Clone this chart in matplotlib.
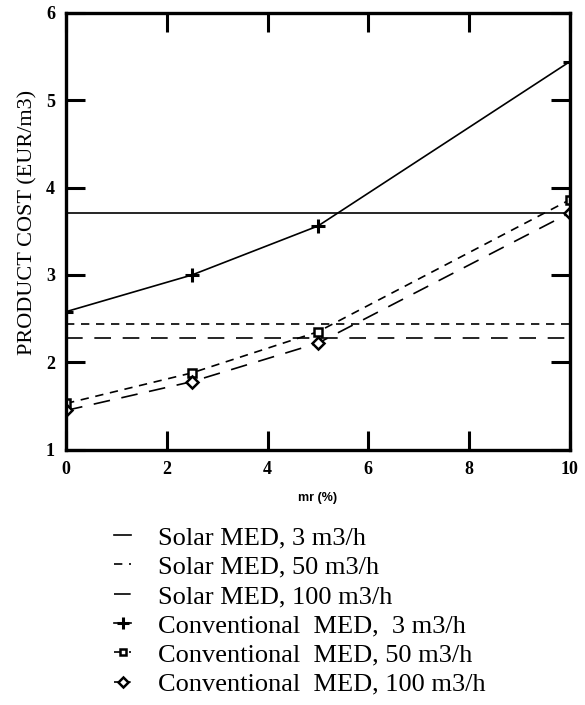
"""Product cost vs mr: solar vs conventional MED, styled after the scanned figure."""

import matplotlib

matplotlib.use("Agg")

import matplotlib.pyplot as plt  # noqa: E402

SERIF = ["Liberation Serif", "DejaVu Serif"]
INK = "#000000"

# --- data --------------------------------------------------------------
mr = [0, 2.5, 5, 10]
conv_3 = [2.58, 3.00, 3.56, 5.44]
conv_50 = [1.53, 1.88, 2.35, 3.86]
conv_100 = [1.45, 1.78, 2.22, 3.71]
solar_3 = 3.71
solar_50 = 2.44
solar_100 = 2.28

x_ticks = [0, 2, 4, 6, 8, 10]
y_ticks = [1, 2, 3, 4, 5, 6]

fig = plt.figure(figsize=(5.85, 7.05), dpi=100)
fig.patch.set_facecolor("white")
ax = fig.add_axes([0.113, 0.362, 0.861, 0.620])

short_dash = (0, (5, 4))
long_dash = (0, (10, 7))

ax.axhline(solar_3, color=INK, lw=1.2, label="Solar MED, 3 m3/h")
ax.axhline(solar_50, color=INK, lw=1.2, linestyle=short_dash, label="Solar MED, 50 m3/h")
ax.axhline(solar_100, color=INK, lw=1.2, linestyle=long_dash, label="Solar MED, 100 m3/h")

ax.plot(mr, conv_3, color=INK, lw=1.2, marker="+", ms=10, mew=2.2,
        label="Conventional  MED,  3 m3/h")
ax.plot(mr, conv_50, color=INK, lw=1.2, linestyle=short_dash, marker="s", ms=6,
        mew=1.8, mfc="white", label="Conventional  MED, 50 m3/h")
ax.plot(mr, conv_100, color=INK, lw=1.2, linestyle=long_dash, marker="D", ms=6,
        mew=1.8, mfc="white", label="Conventional  MED, 100 m3/h")

ax.set_xlim(0, 10)
ax.set_ylim(1, 6)
ax.set_xticks(x_ticks)
ax.set_yticks(y_ticks)
ax.tick_params(direction="in", length=14, width=2.2, top=True, right=True,
               labelsize=13, pad=8)
for lab in ax.get_xticklabels() + ax.get_yticklabels():
    lab.set_fontfamily(SERIF)
    lab.set_fontweight("bold")
for spine in ax.spines.values():
    spine.set_linewidth(2.4)

ax.set_ylabel("PRODUCT COST (EUR/m3)", fontsize=16, family=SERIF)
ax.yaxis.set_label_coords(-0.056, 0.52)
ax.set_xlabel("mr (%)", fontsize=9, fontweight="bold", family="Liberation Sans",
              labelpad=10)

handles, labels = ax.get_legend_handles_labels()
fig.legend(handles, labels, loc="upper left", bbox_to_anchor=(0.195, 0.254),
           frameon=False, prop={"family": SERIF, "size": 19},
           handlelength=0.65, handletextpad=1.0, labelspacing=0.22,
           markerscale=0.8, borderpad=0, borderaxespad=0)

fig.savefig("out.png", dpi=100, facecolor="white")
plt.close(fig)
